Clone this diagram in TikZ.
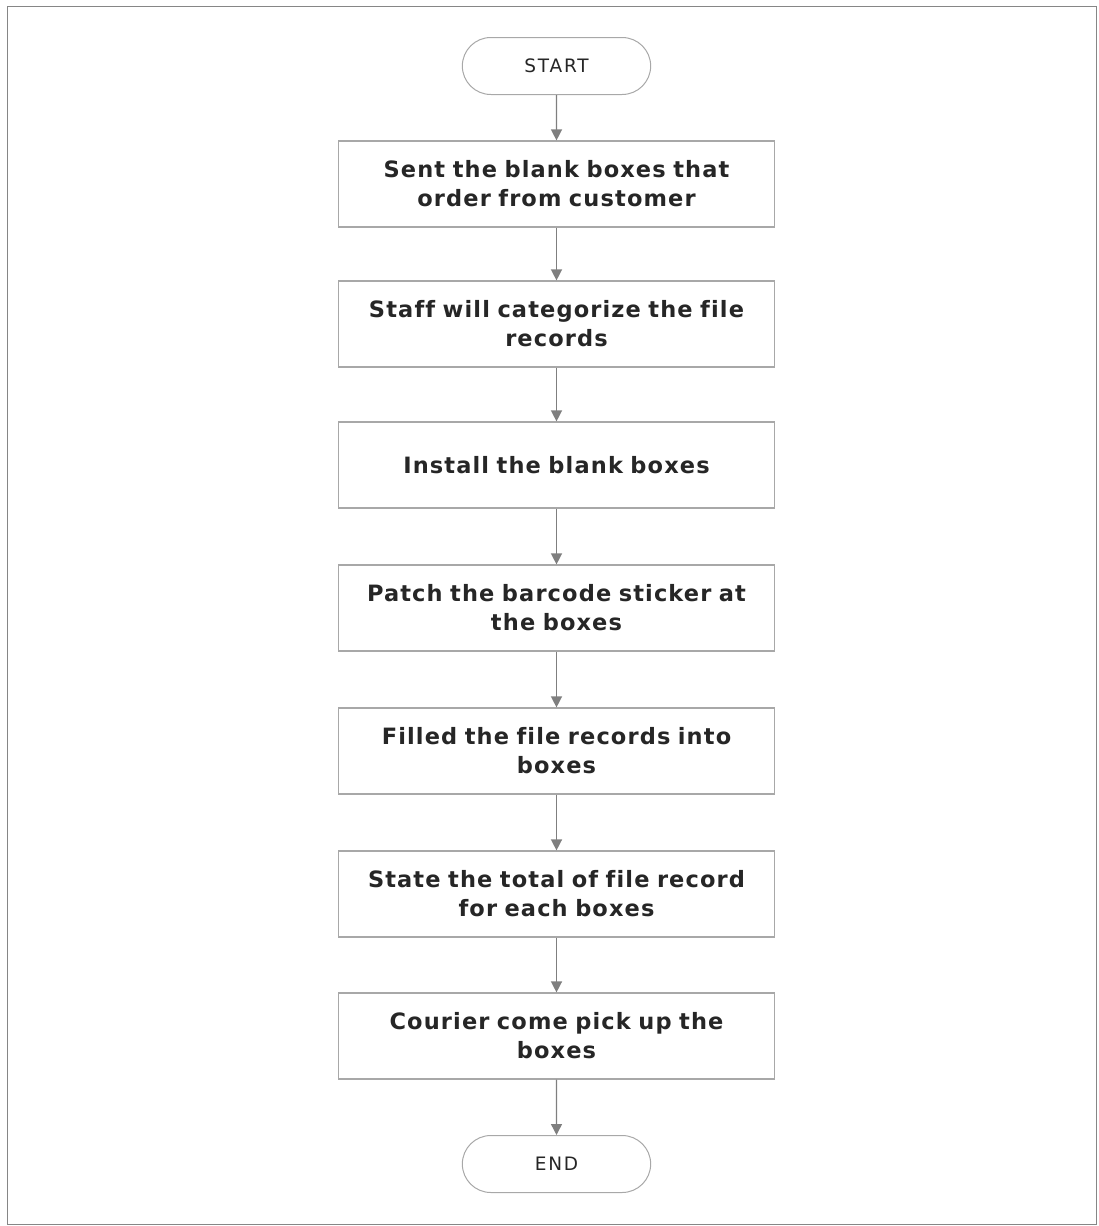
\documentclass[tikz,border=0pt]{standalone}
\usepackage{fontspec}
\setmainfont{DejaVu Sans}
\newfontfamily\boxfont[LetterSpace=5,Ligatures=NoCommon]{DejaVu Sans Bold}
\newfontfamily\termfont[LetterSpace=10]{DejaVu Sans}
\usetikzlibrary{arrows.meta,shapes.misc}
\definecolor{edgegray}{HTML}{A8A8A8}
\definecolor{arrowgray}{HTML}{7F7F7F}
\definecolor{textgray}{HTML}{262626}
\tikzset{
  x=1pt, y=-1pt,
  stepbox/.style={draw=edgegray, line width=1.2pt, minimum width=436pt, minimum height=86pt,
    align=center, text width=430pt, font=\boxfont\fontsize{22.5}{29}\selectfont, text=textgray},
  terminal/.style={draw=edgegray, line width=1pt, rounded rectangle, minimum width=195pt,
    minimum height=57pt, font=\termfont\fontsize{18.5}{20}\selectfont, text=textgray},
  flow/.style={draw=arrowgray, line width=1.4pt, -{Triangle[length=11pt,width=11pt]}}
}
\begin{document}
\begin{tikzpicture}
\useasboundingbox (0,0) rectangle (1099,1226);
% outer frame
\draw[edgegray!80!black, line width=1pt] (7,6) rectangle (1096,1224);
% terminals and process steps
\node[terminal] (start) at (556.5,66) {START};
\node[stepbox] (s1) at (556.5,184) {Sent the blank boxes that\\order from customer};
\node[stepbox] (s2) at (556.5,324) {Staff will categorize the file\\records};
\node[stepbox] (s3) at (556.5,465) {Install the blank boxes};
\node[stepbox] (s4) at (556.5,608) {Patch the barcode sticker at\\the boxes};
\node[stepbox] (s5) at (556.5,751) {Filled the file records into\\boxes};
\node[stepbox] (s6) at (556.5,894) {State the total of file record\\for each boxes};
\node[stepbox] (s7) at (556.5,1036) {Courier come pick up the\\boxes};
\node[terminal] (end) at (556.5,1164) {END};
% connectors
\draw[flow] (start) -- (s1);
\draw[flow] (s1) -- (s2);
\draw[flow] (s2) -- (s3);
\draw[flow] (s3) -- (s4);
\draw[flow] (s4) -- (s5);
\draw[flow] (s5) -- (s6);
\draw[flow] (s6) -- (s7);
\draw[flow] (s7) -- (end);
\end{tikzpicture}
\end{document}
